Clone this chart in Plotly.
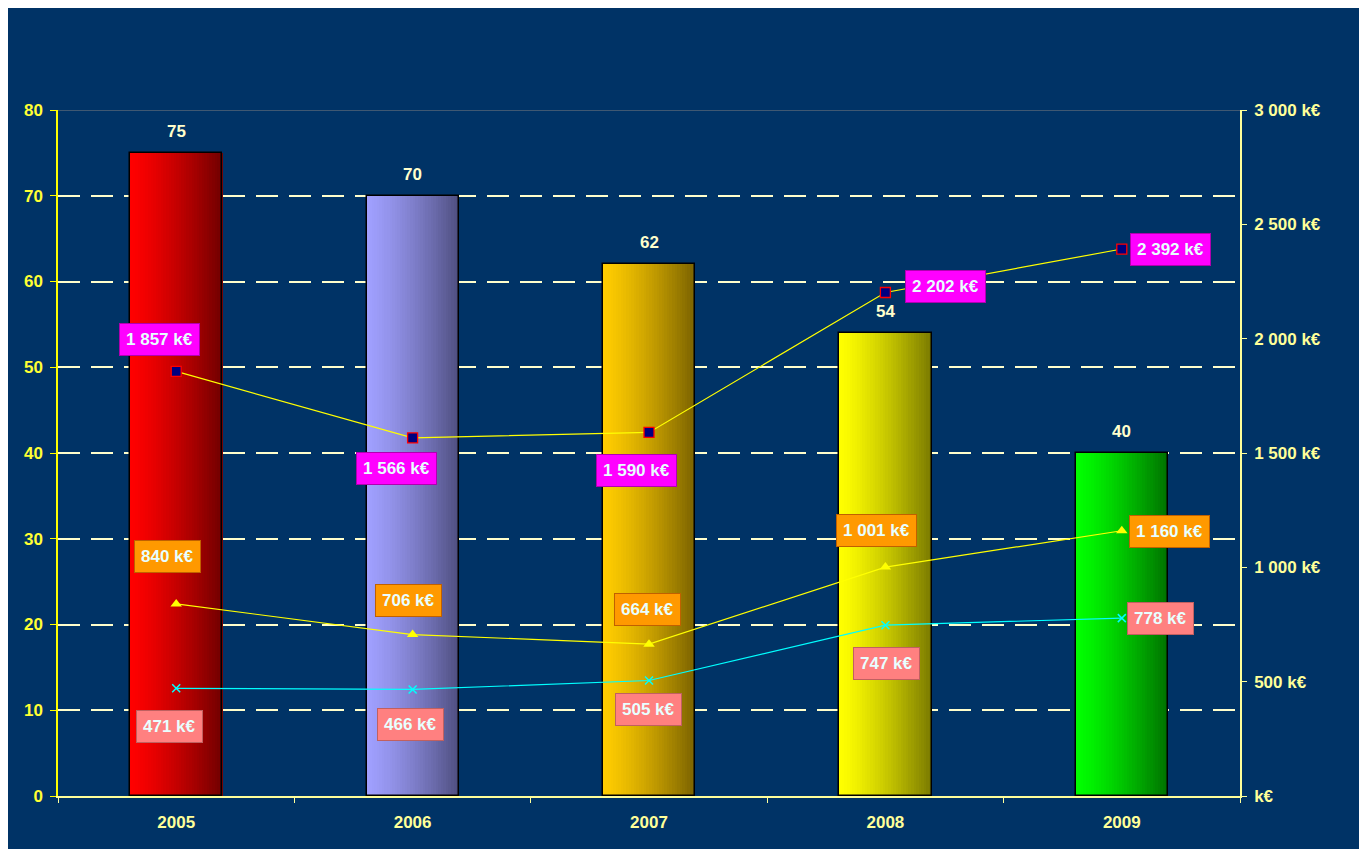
import plotly.graph_objects as go

# ---- data ----
years = ["2005", "2006", "2007", "2008", "2009"]
counts = [75, 70, 62, 54, 40]
series_a = [1857, 1566, 1590, 2202, 2392]   # magenta labels
series_b = [840, 706, 664, 1001, 1160]      # orange labels
series_c = [471, 466, 505, 747, 778]        # pink labels
right_ticks = [0, 500, 1000, 1500, 2000, 2500, 3000]

# ---- styles ----
NAVY = "#003366"
bar_start = ["#FF0000", "#A0A0FF", "#FFCC00", "#FFFF00", "#00FF00"]
bar_end = ["#700000", "#4F4F80", "#7A6200", "#7A7A00", "#007000"]
BAR_W = 0.39
N_SLICES = 36

# label offsets (xshift, yshift) per point
off_a = [(-17, 32), (-16, -31), (-13, -38), (60, 6), (49, 0)]
off_b = [(-9, 47), (-4, 34), (-2, 35), (-9, 37), (48, -1)]
off_c = [(-7, -38), (-2, -35), (-1, -29), (1, -38), (39, 0)]

FONT = "Liberation Sans, Arial, sans-serif"


def hex2rgb(h):
    h = h.lstrip("#")
    return tuple(int(h[i:i + 2], 16) for i in (0, 2, 4))


def mix(c1, c2, t):
    a, b = hex2rgb(c1), hex2rgb(c2)
    return "rgb(%d,%d,%d)" % tuple(round(a[k] + (b[k] - a[k]) * t) for k in range(3))


def fmt(v):
    s = f"{v:,}".replace(",", " ")
    return s + " k€"


fig = go.Figure()

# gradient bars built from thin slices
sw = BAR_W / N_SLICES
for i in range(N_SLICES):
    t = ((i + 0.5) / N_SLICES) ** 1.3
    fig.add_trace(go.Bar(
        x=years, y=counts,
        width=sw * 1.15, offset=-BAR_W / 2 + i * sw,
        marker=dict(color=[mix(s, e, t) for s, e in zip(bar_start, bar_end)], line=dict(width=0)),
        showlegend=False, hoverinfo="skip",
    ))
# bar outline
fig.add_trace(go.Bar(
    x=years, y=counts, width=BAR_W, offset=-BAR_W / 2,
    marker=dict(color="rgba(0,0,0,0)", line=dict(color="#000000", width=1.5)),
    showlegend=False, hoverinfo="skip",
))

# lines on right axis
fig.add_trace(go.Scatter(
    x=years, y=series_a, yaxis="y2", mode="lines+markers",
    line=dict(color="#FFFF00", width=1.2),
    marker=dict(symbol="square", size=10, color="#000080", line=dict(color="#FF0000", width=1.3)),
    showlegend=False,
))
fig.add_trace(go.Scatter(
    x=years, y=series_b, yaxis="y2", mode="lines+markers",
    line=dict(color="#FFFF00", width=1.2),
    marker=dict(symbol="triangle-up", size=10, color="#FFFF00"),
    showlegend=False,
))
fig.add_trace(go.Scatter(
    x=years, y=series_c, yaxis="y2", mode="lines+markers",
    line=dict(color="#00FFFF", width=1.2),
    marker=dict(symbol="x-thin", size=8, color="#00FFFF", line=dict(color="#00FFFF", width=1.5)),
    showlegend=False,
))

annotations = []
# bar value labels (x given as category index)
for idx, c in enumerate(counts):
    annotations.append(dict(
        x=idx, y=c, xref="x", yref="y", text=str(c), showarrow=False,
        yanchor="bottom", yshift=10,
        font=dict(family=FONT, size=17, color="#FFFFCC", weight="bold"),
    ))

# boxed value labels
for vals, offs, bg, bd in [
    (series_a, off_a, "#FF00FF", "#B000B0"),
    (series_b, off_b, "#FF9900", "#C06000"),
    (series_c, off_c, "#FF8080", "#C06060"),
]:
    for idx, (v, (dx, dy)) in enumerate(zip(vals, offs)):
        annotations.append(dict(
            x=idx, y=v, xref="x", yref="y2", text=fmt(v), showarrow=False,
            xshift=dx, yshift=dy, bgcolor=bg, bordercolor=bd, borderwidth=1, borderpad=6,
            font=dict(family=FONT, size=17, color="#E8FFFF", weight="bold"),
        ))

fig.update_layout(
    width=1359, height=841,
    margin=dict(l=50, r=127, t=102, b=53),
    paper_bgcolor=NAVY, plot_bgcolor=NAVY,
    barmode="overlay", bargap=0,
    annotations=annotations,
    xaxis=dict(
        type="category", showgrid=False, tickson="boundaries",
        ticks="outside", ticklen=5, tickcolor="#FFFF99",
        showline=True, linecolor="#FFFF99", linewidth=1.5,
        ticklabelstandoff=10,
        tickfont=dict(family=FONT, size=17, color="#FFFF99", weight="bold"),
        range=[-0.5, 4.5],
    ),
    yaxis=dict(
        range=[0, 80], dtick=10, tickformat="d",
        showline=True, linecolor="#FFFF00", linewidth=1.5,
        ticks="outside", ticklen=6, tickcolor="#FFFF00",
        showgrid=True, gridcolor="#FFFFCC", gridwidth=1.5, griddash="22px,11px",
        zeroline=False, ticklabelstandoff=4,
        tickfont=dict(family=FONT, size=17, color="#FFFF33", weight="bold"),
    ),
    yaxis2=dict(
        range=[0, 3000], overlaying="y", side="right",
        tickvals=right_ticks,
        ticktext=[("k€" if v == 0 else fmt(v)) for v in right_ticks],
        showline=True, linecolor="#FFFF99", linewidth=1.5,
        ticks="outside", ticklen=5, tickcolor="#FFFF99",
        showgrid=False, zeroline=False, ticklabelstandoff=4,
        tickfont=dict(family=FONT, size=17, color="#FFFF99", weight="bold"),
    ),
    shapes=[dict(type="line", xref="paper", yref="y", x0=0, x1=1, y0=80, y1=80,
                 line=dict(color="#7F7F7F", width=1))],
)

fig.write_html("out.html")
